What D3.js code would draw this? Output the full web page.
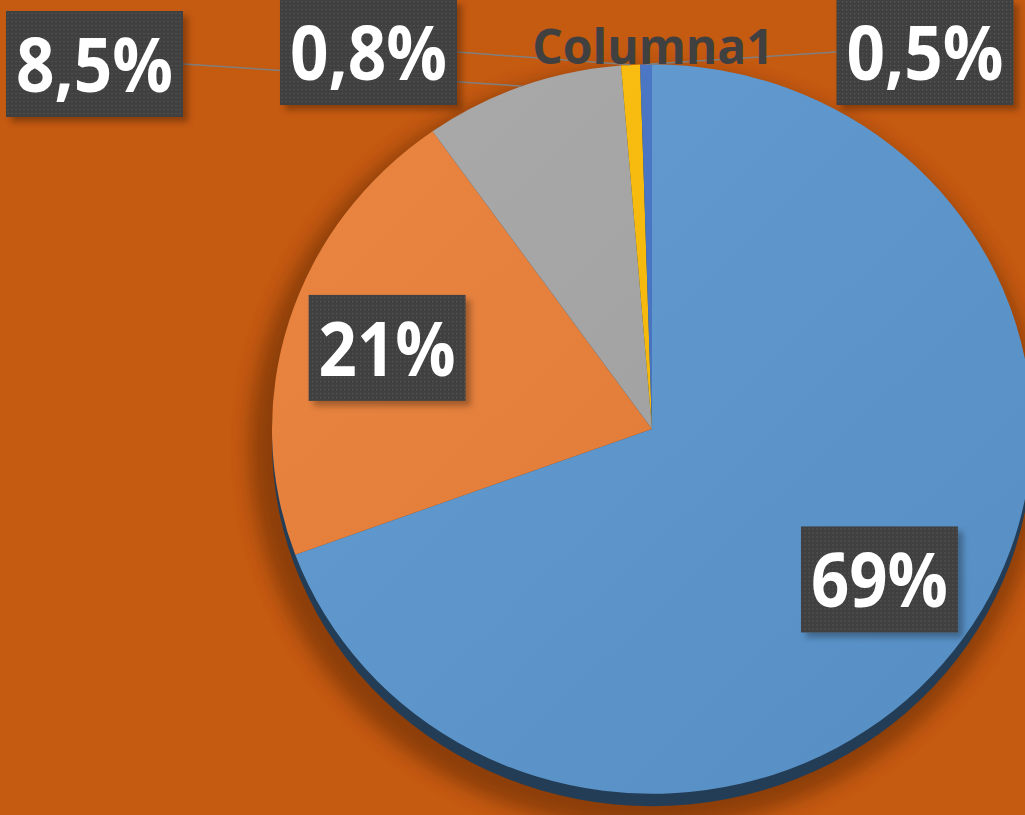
<!DOCTYPE html>
<html>
<head>
  <script src="https://d3js.org/d3.v7.min.js"></script>
  <style>
    body { margin: 0; background: #C55A11; }
    svg { display: block; }
    .label-text { font-family: "Open Sans", sans-serif; font-weight: 700; fill: #fff; }
    .title { font-family: "Open Sans", sans-serif; font-weight: 700; fill: #404040; }
  </style>
</head>
<body>
  <div id="chart"></div>
  <script>
    // data
    const categories = ["Cat1", "Cat2", "Cat3", "Cat4", "Cat5"];
    const values = [69.4, 20.8, 8.5, 0.8, 0.5];
    const labels = ["69%", "21%", "8,5%", "0,8%", "0,5%"];
    const colors = ["#5B97D0", "#E97E36", "#A5A5A5", "#FBBC04", "#4472C4"];
    const chartTitle = "Columna1";

    const width = 1025, height = 815;
    const cx = 652, cy = 429, r = 380, sy = 0.96;

    // label boxes that sit outside the pie (index -> box center)
    const outsideLabels = { 2: [94.5, 64], 3: [368.5, 52], 4: [925, 52] };

    const svg = d3.select("#chart").append("svg")
      .attr("width", width)
      .attr("height", height);

    const defs = svg.append("defs");

    // dotted fill for label boxes
    const pat = defs.append("pattern")
      .attr("id", "dots")
      .attr("width", 4).attr("height", 4)
      .attr("patternUnits", "userSpaceOnUse");
    pat.append("rect").attr("width", 4).attr("height", 4).attr("fill", "#404040");
    pat.append("rect").attr("x", 1).attr("y", 1).attr("width", 1.2).attr("height", 1.2).attr("fill", "#5a5a5a");

    const boxShadow = defs.append("filter").attr("id", "boxShadow")
      .attr("x", "-20%").attr("y", "-20%").attr("width", "150%").attr("height", "150%");
    boxShadow.append("feDropShadow")
      .attr("dx", 5).attr("dy", 5).attr("stdDeviation", 3)
      .attr("flood-color", "#000").attr("flood-opacity", 0.3);

    const pieBlur = defs.append("filter").attr("id", "pieBlur")
      .attr("x", "-20%").attr("y", "-20%").attr("width", "140%").attr("height", "140%");
    pieBlur.append("feGaussianBlur").attr("stdDeviation", 10);

    const shine = defs.append("linearGradient").attr("id", "shine")
      .attr("x1", "0%").attr("y1", "0%").attr("x2", "100%").attr("y2", "100%");
    shine.append("stop").attr("offset", "0%").attr("stop-color", "#fff").attr("stop-opacity", 0.06);
    shine.append("stop").attr("offset", "100%").attr("stop-color", "#000").attr("stop-opacity", 0.06);

    const pie = d3.pie().sort(null).value(d => d);
    const arcs = pie(values);
    const arc = d3.arc().innerRadius(0).outerRadius(r);
    const labelArc = d3.arc().innerRadius(r * 0.73).outerRadius(r * 0.73);
    const edgeArc = d3.arc().innerRadius(r).outerRadius(r);

    const toScreen = p => [cx + p[0], cy + p[1] * sy];

    // soft shadow + side of the pie
    const g = svg.append("g").attr("transform", `translate(${cx},${cy}) scale(1,${sy})`);
    g.append("circle")
      .attr("cx", -6).attr("cy", 20).attr("r", r + 16)
      .attr("fill", "#4a1c00").attr("opacity", 0.45)
      .attr("filter", "url(#pieBlur)");
    g.append("circle")
      .attr("cx", 0).attr("cy", 13).attr("r", r)
      .attr("fill", "#243D56");

    // slices
    g.selectAll("path.slice")
      .data(arcs)
      .enter().append("path")
      .attr("class", "slice")
      .attr("d", arc)
      .attr("fill", (d, i) => colors[i]);
    g.append("circle").attr("r", r).attr("fill", "url(#shine)");

    // leader lines for outside labels
    Object.entries(outsideLabels).forEach(([i, c]) => {
      const end = toScreen(edgeArc.centroid(arcs[i]));
      const boxW = labels[i].length * 20 + 97;
      const startX = end[0] < c[0] ? c[0] - boxW / 2 : c[0] + boxW / 2;
      svg.append("line")
        .attr("x1", startX).attr("y1", c[1])
        .attr("x2", end[0]).attr("y2", end[1])
        .attr("stroke", "#7F7F7F").attr("stroke-width", 1.5);
    });

    // title
    svg.append("text")
      .attr("class", "title")
      .attr("x", 653).attr("y", 64)
      .attr("text-anchor", "middle")
      .attr("font-size", 48)
      .text(chartTitle);

    // labels
    arcs.forEach((d, i) => {
      const c = outsideLabels[i] ? outsideLabels[i] : toScreen(labelArc.centroid(d));
      if (!outsideLabels[i]) c[1] -= 2;
      const boxW = labels[i].length * 20 + 97, boxH = 106;
      const lg = svg.append("g").attr("transform", `translate(${c[0]},${c[1]})`);
      lg.append("rect")
        .attr("x", -boxW / 2).attr("y", -boxH / 2)
        .attr("width", boxW).attr("height", boxH)
        .attr("fill", "url(#dots)")
        .attr("filter", "url(#boxShadow)");
      const t = lg.append("text")
        .attr("class", "label-text")
        .attr("text-anchor", "middle")
        .attr("y", 28)
        .attr("font-size", 76)
        .text(labels[i]);
      const target = boxW - 20;
      if (t.node().getComputedTextLength() > target) {
        t.attr("textLength", target).attr("lengthAdjust", "spacingAndGlyphs");
      }
    });
  </script>
</body>
</html>
